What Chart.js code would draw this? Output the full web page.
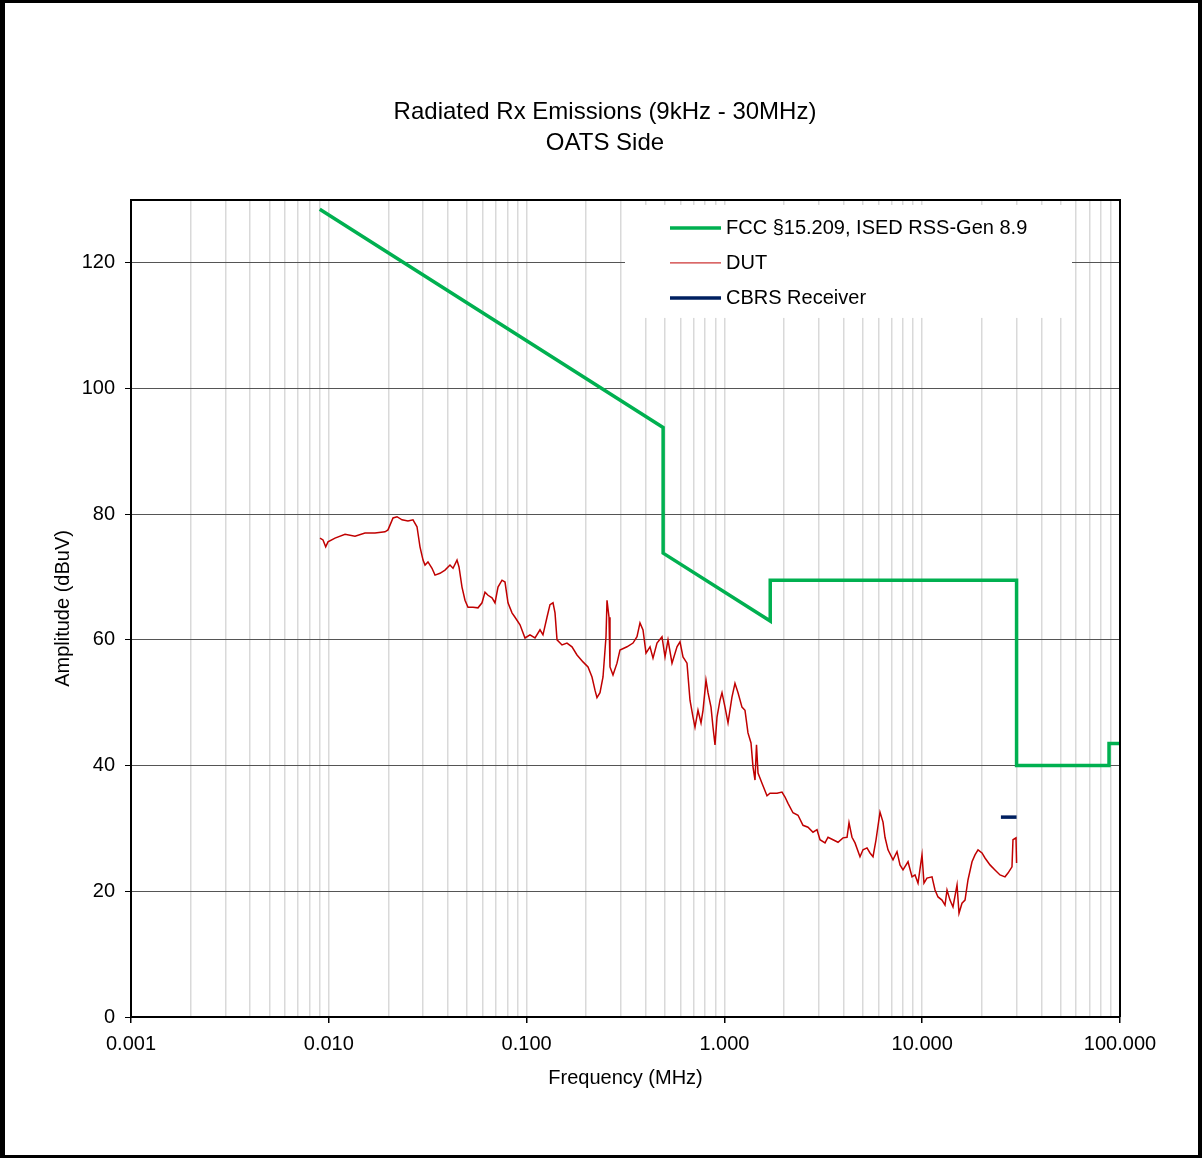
<!DOCTYPE html>
<html>
<head>
<meta charset="utf-8">
<script src="https://cdn.jsdelivr.net/npm/chart.js@4.4.1/dist/chart.umd.min.js"></script>
<style>
  body { margin: 0; background: #fff; }
  canvas { display: block; }
</style>
</head>
<body>
<canvas id="myChart" width="1202" height="1158"></canvas>
<script>
// FCC §15.209 / RSS-Gen limit (MHz, dBuV)
const limitFreq = [0.009, 0.49, 0.49, 1.705, 1.705, 30, 30, 88, 88, 100];
const limitAmp = [128.5, 93.8, 73.8, 63.0, 69.5, 69.5, 40, 40, 43.5, 43.5];

// DUT trace (MHz, dBuV)
const dutFreq = [
  0.009026, 0.009348, 0.009646, 0.009908, 0.01075, 0.01208, 0.01357, 0.01524, 0.01712, 0.01924,
  0.01992, 0.02112, 0.02212, 0.02345, 0.02514, 0.02665, 0.02792, 0.02891, 0.02995, 0.03065,
  0.03173, 0.03325, 0.03443, 0.03649, 0.03868, 0.04100, 0.04246, 0.04448, 0.04553, 0.04714,
  0.04882, 0.05055, 0.05358, 0.05680, 0.05950, 0.06162, 0.06381, 0.06685, 0.06922, 0.07169,
  0.07510, 0.07777, 0.08053, 0.08437, 0.08737, 0.09261, 0.09815, 0.1040, 0.1103, 0.1169,
  0.1210, 0.1268, 0.1313, 0.1360, 0.1392, 0.1425, 0.1510, 0.1600, 0.1696, 0.1798,
  0.1928, 0.2044, 0.2141, 0.2217, 0.2269, 0.2350, 0.2434, 0.2520, 0.2550, 0.2610,
  0.2640, 0.2734, 0.2864, 0.2966, 0.3218, 0.3451, 0.3615, 0.3744, 0.3877, 0.4015,
  0.4207, 0.4356, 0.4563, 0.4836, 0.5009, 0.5187, 0.5434, 0.5759, 0.5964, 0.6176,
  0.6470, 0.6700, 0.6939, 0.7102, 0.7354, 0.7617, 0.7796, 0.8072, 0.8263, 0.8557,
  0.8758, 0.8964, 0.9175, 0.9501, 0.9725, 1.007, 1.043, 1.092, 1.131, 1.172,
  1.227, 1.271, 1.316, 1.363, 1.395, 1.428, 1.453, 1.479, 1.549, 1.642,
  1.700, 1.845, 1.955, 2.025, 2.097, 2.222, 2.356, 2.497, 2.646, 2.805,
  2.939, 3.043, 3.226, 3.341, 3.540, 3.753, 3.978, 4.168, 4.266, 4.417,
  4.575, 4.848, 5.020, 5.260, 5.447, 5.641, 5.841, 6.119, 6.337, 6.486,
  6.716, 7.119, 7.458, 7.723, 7.998, 8.479, 8.882, 9.197, 9.524, 9.977,
  10.21, 10.57, 11.21, 11.61, 12.02, 12.59, 13.04, 13.35, 13.82, 14.31,
  15.00, 15.35, 15.89, 16.46, 17.04, 17.86, 18.49, 19.15, 20.06, 20.77,
  22.02, 23.33, 24.74, 26.22, 27.15, 28.44, 28.77, 29.80, 30.0
];
const dutAmp = [
  76.2, 75.9, 74.8, 75.6, 76.2, 76.8, 76.5, 77.0, 77.0, 77.2,
  77.5, 79.4, 79.6, 79.1, 78.9, 79.1, 78.0, 74.8, 72.7, 71.9,
  72.4, 71.4, 70.3, 70.6, 71.1, 71.9, 71.4, 72.7, 71.6, 68.4,
  66.3, 65.2, 65.2, 65.1, 65.9, 67.6, 67.1, 66.7, 65.9, 68.4,
  69.5, 69.2, 65.9, 64.3, 63.6, 62.4, 60.3, 60.8, 60.3, 61.6,
  60.8, 63.6, 65.6, 65.9, 64.3, 60.0, 59.2, 59.5, 58.9, 57.6,
  56.5, 55.7, 54.1, 52.0, 50.8, 51.6, 54.1, 60.5, 66.3, 63.6,
  55.7, 54.4, 56.3, 58.4, 58.9, 59.5, 60.5, 62.7, 61.6, 57.9,
  58.9, 57.1, 59.5, 60.5, 57.3, 60.0, 56.3, 58.9, 59.7, 57.3,
  56.3, 50.4, 47.7, 46.1, 48.8, 46.8, 48.8, 53.6, 51.6, 49.3,
  46.1, 43.3, 47.7, 50.4, 51.6, 49.3, 46.8, 50.9, 53.1, 51.6,
  49.3, 48.8, 45.2, 43.6, 39.8, 37.7, 43.3, 38.8, 37.2, 35.2,
  35.6, 35.6, 35.8, 35.0, 34.0, 32.5, 32.1, 30.5, 30.2, 29.4,
  29.8, 28.2, 27.7, 28.6, 28.2, 27.8, 28.5, 28.6, 30.9, 28.6,
  27.7, 25.5, 26.6, 26.9, 26.1, 25.5, 28.2, 32.6, 31.0, 28.6,
  26.6, 25.0, 26.3, 24.2, 23.4, 24.7, 22.3, 22.6, 21.3, 25.8,
  21.3, 22.1, 22.3, 20.2, 19.1, 18.6, 17.8, 20.2, 18.6, 17.5,
  21.0, 16.5, 18.1, 18.6, 21.8, 24.7, 25.8, 26.6, 26.1, 25.3,
  24.2, 23.4, 22.6, 22.3, 22.9, 23.9, 28.2, 28.5, 24.5
];

// CBRS receiver limit segment
const cbrsFreq = [25, 30];
const cbrsAmp = [31.8, 31.8];

const xDecades = [0.001, 0.01, 0.1, 1, 10, 100];
const yTicks = [0, 20, 40, 60, 80, 100, 120];

const seriesLabels = ['FCC §15.209, ISED RSS-Gen 8.9', 'DUT', 'CBRS Receiver'];

function toPoints(xs, ys) {
  return xs.map((x, i) => ({ x, y: ys[i] }));
}

function isDecade(v) {
  return Math.abs(Math.log10(v) - Math.round(Math.log10(v))) < 1e-6;
}

const frame = {
  id: 'frame',
  beforeDraw(chart) {
    const { ctx, width, height } = chart;
    ctx.save();
    ctx.fillStyle = '#fff';
    ctx.fillRect(0, 0, width, height);
    ctx.restore();
  },
  afterDraw(chart) {
    const { ctx, width, height, chartArea: a } = chart;
    ctx.save();
    ctx.fillStyle = '#000';
    ctx.fillRect(0, 0, 5, height);
    ctx.fillRect(0, 0, width, 3);
    ctx.fillRect(width - 4, 0, 4, height);
    ctx.fillRect(0, height - 3, width, 3);
    ctx.strokeStyle = '#000';
    ctx.lineWidth = 2;
    ctx.beginPath();
    ctx.moveTo(a.left, a.top);
    ctx.lineTo(a.right, a.top);
    ctx.lineTo(a.right, a.bottom);
    ctx.stroke();
    ctx.restore();
  }
};

const boxLegend = {
  id: 'boxLegend',
  afterDatasetsDraw(chart) {
    const { ctx, chartArea: a } = chart;
    const right = a.right - 48;
    const left = right - 447;
    const top = a.top + 5;
    ctx.save();
    ctx.fillStyle = '#fff';
    ctx.fillRect(left, top, right - left, 113);
    ctx.font = '20px "Liberation Sans", Arial, sans-serif';
    ctx.textBaseline = 'middle';
    ctx.fillStyle = '#000';
    chart.data.datasets.forEach((ds, i) => {
      const y = top + 23 + i * 35;
      ctx.strokeStyle = ds.borderColor;
      ctx.lineWidth = i === 1 ? 1 : ds.borderWidth;
      ctx.beginPath();
      ctx.moveTo(left + 45, y);
      ctx.lineTo(left + 96, y);
      ctx.stroke();
      ctx.fillText(ds.label, left + 101, y + 1);
    });
    ctx.restore();
  }
};

Chart.defaults.font.family = '"Liberation Sans", Arial, sans-serif';
Chart.defaults.color = '#000';

new Chart(document.getElementById('myChart'), {
  type: 'scatter',
  data: {
    datasets: [
      {
        label: seriesLabels[0],
        data: toPoints(limitFreq, limitAmp),
        showLine: true,
        borderColor: '#00b050',
        borderWidth: 3.5,
        pointRadius: 0,
      },
      {
        label: seriesLabels[1],
        data: toPoints(dutFreq, dutAmp),
        showLine: true,
        borderColor: '#c00000',
        borderWidth: 1.5,
        pointRadius: 0,
      },
      {
        label: seriesLabels[2],
        data: toPoints(cbrsFreq, cbrsAmp),
        showLine: true,
        borderColor: '#002060',
        borderWidth: 3.5,
        pointRadius: 0,
      },
    ],
  },
  options: {
    responsive: false,
    animation: false,
    devicePixelRatio: 1,
    layout: { padding: { top: 0, left: 8, right: 0, bottom: 50 } },
    plugins: {
      legend: { display: false },
      tooltip: { enabled: false },
      title: {
        display: true,
        text: ['Radiated Rx Emissions (9kHz - 30MHz)', 'OATS Side'],
        font: { size: 24, weight: 'normal', lineHeight: 1.29 },
        color: '#000',
        padding: { top: 96.5, bottom: 41.5 },
      },
    },
    scales: {
      x: {
        type: 'logarithmic',
        min: 0.001,
        max: 100,
        afterBuildTicks: (scale) => {
          const ticks = [];
          xDecades.forEach((d, i) => {
            if (i === xDecades.length - 1) {
              ticks.push({ value: d });
              return;
            }
            for (let m = 1; m <= 9; m++) ticks.push({ value: d * m });
          });
          scale.ticks = ticks;
        },
        afterFit: (scale) => { scale.height = 91; },
        ticks: {
          autoSkip: false,
          maxRotation: 0,
          padding: 9,
          font: { size: 20 },
          callback: (v) => (isDecade(v) ? Number(v).toFixed(3) : ''),
        },
        grid: {
          color: '#d9d9d9',
          lineWidth: 1.5,
          tickLength: 6,
          tickWidth: 1.5,
          tickColor: (ctx) => (ctx.tick && isDecade(ctx.tick.value) ? '#000' : 'rgba(0,0,0,0)'),
        },
        border: { color: '#000', width: 2 },
        title: {
          display: true,
          text: 'Frequency (MHz)',
          font: { size: 20 },
          padding: { top: 0, bottom: 18 },
        },
      },
      y: {
        min: 0,
        max: 130,
        afterBuildTicks: (scale) => {
          scale.ticks = yTicks.map((v) => ({ value: v }));
        },
        afterFit: (scale) => { scale.width = 123; },
        ticks: { padding: 10, font: { size: 20 } },
        grid: { color: '#555', lineWidth: 1, tickLength: 6, tickColor: '#000' },
        border: { color: '#000', width: 2 },
        title: {
          display: true,
          text: 'Amplitude (dBuV)',
          font: { size: 20 },
          padding: { top: 43, bottom: 0 },
        },
      },
      yRight: {
        position: 'right',
        min: 0,
        max: 130,
        afterFit: (scale) => { scale.width = 82; },
        ticks: { display: false },
        grid: { display: false },
        border: { display: false },
      },
    },
  },
  plugins: [frame, boxLegend],
});
</script>
</body>
</html>
